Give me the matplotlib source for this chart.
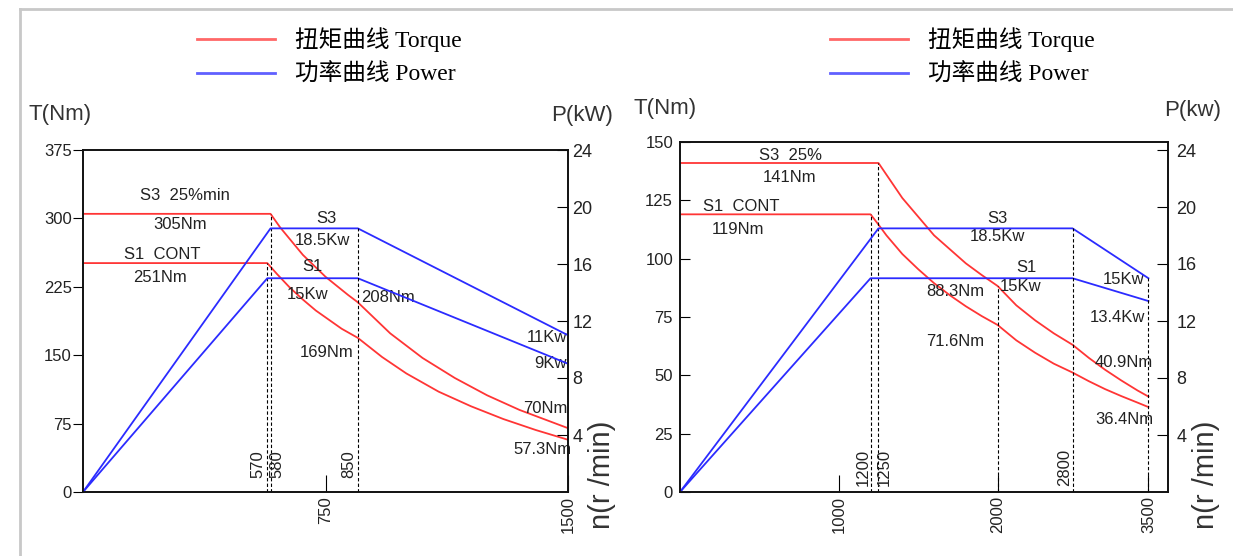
import numpy as np
import matplotlib.pyplot as plt
from matplotlib.font_manager import FontProperties
from matplotlib.lines import Line2D

plt.rcParams['font.family'] = ['Liberation Sans', 'DejaVu Sans']

RED = '#ff3535'
BLUE = '#2b2bff'
INK = '#222222'

# ---- left motor (1500 r/min) ----
L_S3_T_N = [0, 580, 610, 680, 750, 820, 850, 950, 1050, 1150, 1250, 1350, 1500]
L_S3_T = [305, 305, 290, 260, 236, 216, 208, 174, 147, 125, 106, 90, 70]
L_S1_T_N = [0, 570, 600, 640, 680, 720, 760, 800, 850, 925, 1000, 1100, 1200, 1300, 1400, 1500]
L_S1_T = [251, 251, 239, 224, 211, 199, 189, 179, 169, 148, 130, 110, 94, 80, 68, 57.3]
L_S3_P_N = [0, 580, 850, 1500]
L_S3_P = [0, 18.5, 18.5, 11]
L_S1_P_N = [0, 570, 850, 1500]
L_S1_P = [0, 15, 15, 9]

# ---- right motor (3500 r/min) ----
R_S3_T_N = [0, 1250, 1300, 1350, 1400, 1500, 1600, 1700, 1800, 1900, 2000,
            2200, 2400, 2600, 2800, 2950, 3100, 3250, 3400, 3500]
R_S3_T = [141, 141, 136, 131, 126, 118, 110, 104, 98, 93, 88.3,
          80, 73.6, 68, 63.1, 57.5, 52.4, 47.8, 43.5, 40.9]
R_S1_T_N = [0, 1200, 1250, 1300, 1400, 1500, 1600, 1700, 1800, 1900, 2000,
            2200, 2400, 2600, 2800, 2950, 3100, 3250, 3400, 3500]
R_S1_T = [119, 119, 114.6, 110, 102, 95.5, 89.5, 84.3, 79.6, 75.4, 71.6,
          65, 59.7, 55, 51.2, 47.5, 44.1, 41.1, 38.3, 36.4]
R_S3_P_N = [0, 1250, 2800, 3500]
R_S3_P = [0, 18.5, 18.5, 15]
R_S1_P_N = [0, 1200, 2800, 3500]
R_S1_P = [0, 15, 15, 13.4]

# the speed axis on the right drawing is not to scale above 2000 r/min
R_SCALE_N = [0, 2000, 2800, 3500, 3700]
R_SCALE_POS = [0, 2000, 2472, 2950, 3087]


def fwd(x):
    return np.interp(x, R_SCALE_N, R_SCALE_POS)


def inv(y):
    return np.interp(y, R_SCALE_POS, R_SCALE_N)


legend_font = FontProperties(family=['Liberation Serif', 'Noto Sans CJK SC'], size=17)


def draw_panel(ax, d):
    ax2 = ax.twinx()
    t3, = ax.plot(d['s3t'][0], d['s3t'][1], color=RED, lw=1.3)
    ax.plot(d['s1t'][0], d['s1t'][1], color=RED, lw=1.3)
    p3, = ax2.plot(d['s3p'][0], d['s3p'][1], color=BLUE, lw=1.3)
    ax2.plot(d['s1p'][0], d['s1p'][1], color=BLUE, lw=1.3)

    for n, top in d['vt']:
        ax.vlines(n, 0, top, colors='black', linestyles=(0, (3, 2)), lw=0.8)
    for n, top in d['vp']:
        ax2.vlines(n, 0, top, colors='black', linestyles=(0, (3, 2)), lw=0.8)

    ax.set_xlim(0, d['xmax'])
    ax.set_ylim(0, d['tmax'])
    ax2.set_ylim(0, d['pmax'])

    ax.set_yticks(d['tticks'])
    ax.tick_params(axis='y', direction=d['tdir'], length=7, pad=d['tpad'],
                   labelsize=12, labelcolor=INK)
    ax.set_xticks(d['xticks'], labels=[str(v) for v in d['xticks']], rotation=90)
    ax.tick_params(axis='x', direction='in', length=12, pad=3,
                   labelsize=12, labelcolor=INK)
    ax.minorticks_off()
    ax2.set_yticks([4, 8, 12, 16, 20, 24])
    ax2.tick_params(axis='y', direction='in', length=8, pad=d['ppad'],
                    labelsize=13, labelcolor=INK)
    for a in (ax, ax2):
        for s in a.spines.values():
            s.set_linewidth(1.2)
            s.set_color('#111111')

    for txt, x, y, ha in d['notes']:
        ax.text(x, y, txt, ha=ha, va='center', fontsize=12, color=INK)
    for txt, n, dx, dy in d['inner']:
        ax.annotate(txt, xy=(n, 0), xytext=(dx, dy), textcoords='offset points',
                    rotation=90, ha='center', va='bottom', fontsize=12, color=INK)

    ax.text(d['tlab'][0], d['tlab'][1], 'T(Nm)', transform=ax.transAxes,
            ha='center', va='center', fontsize=16, color='#333333')
    ax.text(d['plab'][0], d['plab'][1], d['ptxt'], transform=ax.transAxes,
            ha='center', va='center', fontsize=16, color='#333333')
    ax.text(d['nlab'][0], d['nlab'][1], 'n(r /min)', transform=ax.transAxes,
            rotation=90, ha='center', va='center', fontsize=21, color='#333333')

    ax.legend([t3, p3], ['扭矩曲线 Torque', '功率曲线 Power'], loc='upper left',
              bbox_to_anchor=d['leg'], bbox_transform=ax.figure.transFigure,
              frameon=False, borderpad=0, borderaxespad=0, handlelength=3.3,
              handletextpad=0.85, labelspacing=0.5, prop=legend_font)
    for h in ax.get_legend().legend_handles:
        h.set_linewidth(2)
        h.set_alpha(0.75)


fig = plt.figure(figsize=(12.33, 5.56), dpi=100)
W, H = 1233, 556

axL = fig.add_axes([83 / W, (556 - 492) / H, 485 / W, 342 / H])
axR = fig.add_axes([680 / W, (556 - 492) / H, 488 / W, 350 / H])
axR.set_xscale('function', functions=(fwd, inv))

left = dict(
    s3t=(L_S3_T_N, L_S3_T), s1t=(L_S1_T_N, L_S1_T),
    s3p=(L_S3_P_N, L_S3_P), s1p=(L_S1_P_N, L_S1_P),
    vt=[(570, 251), (580, 305)], vp=[(850, 18.5)],
    xmax=1500, tmax=375, pmax=24,
    tticks=[0, 75, 150, 225, 300, 375], tdir='out', tpad=1, ppad=3,
    xticks=[750, 1500],
    notes=[('S3  25%min', 315, 325, 'center'), ('305Nm', 300, 293, 'center'),
           ('S1  CONT', 244, 260, 'center'), ('251Nm', 238, 235, 'center'),
           ('S3', 752, 300, 'center'), ('18.5Kw', 739, 276, 'center'),
           ('S1', 708, 247, 'center'), ('15Kw', 696, 217, 'center'),
           ('208Nm', 860, 213, 'left'), ('169Nm', 755, 153, 'center'),
           ('11Kw', 1497, 169, 'right'), ('9Kw', 1497, 141, 'right'),
           ('70Nm', 1500, 92, 'right'), ('57.3Nm', 1420, 46.5, 'center')],
    inner=[('570', 570, -6.5, 10), ('580', 580, 4.5, 10), ('850', 850, -6.5, 10)],
    tlab=(-0.047, 1.105), plab=(1.03, 1.10), ptxt='P(kW)', nlab=(1.07, 0.05),
    leg=(197 / W, 1 - 27 / H),
)

right = dict(
    s3t=(R_S3_T_N, R_S3_T), s1t=(R_S1_T_N, R_S1_T),
    s3p=(R_S3_P_N, R_S3_P), s1p=(R_S1_P_N, R_S1_P),
    vt=[(1200, 119), (1250, 141), (2000, 88.3)], vp=[(2800, 18.5), (3500, 15)],
    xmax=3680, tmax=150, pmax=24 * 350 / 342,
    tticks=[0, 25, 50, 75, 100, 125, 150], tdir='in', tpad=5, ppad=6,
    xticks=[1000, 2000, 3500],
    notes=[('S3  25%', 693, 144, 'center'), ('141Nm', 693, 134.6, 'center'),
           ('S1  CONT', 384, 122.5, 'center'), ('119Nm', 365, 112.7, 'center'),
           ('S3', 2000, 117.4, 'center'), ('18.5Kw', 2000, 109.3, 'center'),
           ('S1', 2303, 96, 'center'), ('15Kw', 2250, 87.9, 'center'),
           ('88.3Nm', 1732, 86.1, 'center'), ('71.6Nm', 1732, 64.7, 'center'),
           ('15Kw', 3274, 90.9, 'center'), ('13.4Kw', 3210, 75, 'center'),
           ('40.9Nm', 3274, 55.3, 'center'), ('36.4Nm', 3274, 30.9, 'center')],
    inner=[('1200', 1200, -5, 4), ('1250', 1250, 4.5, 4), ('2800', 2800, -6, 4)],
    tlab=(-0.03, 1.095), plab=(1.05, 1.09), ptxt='P(kw)', nlab=(1.077, 0.05),
    leg=(830 / W, 1 - 27 / H),
)

draw_panel(axL, left)
draw_panel(axR, right)

# grey sheet border (top and left)
fig.add_artist(Line2D([20 / W, 20 / W], [0, 1 - 9 / H], color='#c8c8c8', lw=2))
fig.add_artist(Line2D([20 / W, 1], [1 - 9 / H, 1 - 9 / H], color='#c8c8c8', lw=2))

fig.savefig('out.png', dpi=100)
